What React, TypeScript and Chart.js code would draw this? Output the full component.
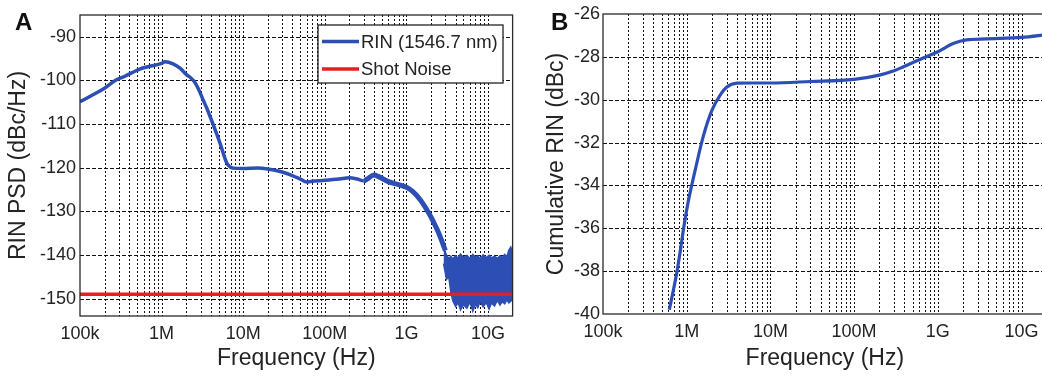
import React, { useEffect, useRef } from "react";
import { Chart, registerables } from "chart.js";

Chart.register(...registerables);

const FONT = '"Liberation Sans", Arial, Helvetica, sans-serif';
const BLUE = "#2d4fb5";
const RED = "#ee1c1c";
const INK = "#232323";

// ---- shared x axis ----
const xMin = 1e5;
const xMax = 2e10;
const xTickValues = [1e5, 1e6, 1e7, 1e8, 1e9, 1e10];
const xTickLabels = ["100k", "1M", "10M", "100M", "1G", "10G"];
const xTitle = "Frequency (Hz)";

// ---- panel A ----
const rinLabel = "RIN (1546.7 nm)";
const shotLabel = "Shot Noise";
const yTitleA = "RIN PSD (dBc/Hz)";
const yTicksA = [-150, -140, -130, -120, -110, -100, -90];

const rinFreq = [
  1e5, 1.5e5, 2e5, 2.7e5, 3.5e5, 5.4e5, 7e5, 1e6, 1.1e6, 1.38e6, 1.68e6, 2e6,
  2.3e6, 2.5e6, 2.8e6, 3.2e6, 3.6e6, 4.3e6, 5.2e6, 6.3e6, 7e6, 7.5e6, 1e7,
  1.5e7, 2e7, 3e7, 4e7, 5e7, 6e7, 7e7, 1e8, 1.5e8, 2e8, 2.5e8, 3e8, 3.3e8,
  4e8, 4.5e8, 6e8, 8e8, 1e9, 1.2e9, 1.5e9, 1.8e9, 2e9, 2.3e9, 2.5e9, 2.8e9,
  3e9,
];
const rinPsd = [
  -104.9, -103.1, -101.8, -100.0, -99.1, -97.4, -96.8, -96.1, -95.7, -96.2,
  -97.2, -98.6, -99.5, -100.2, -101.8, -104.3, -106.5, -110.2, -114.4, -119.0,
  -119.9, -120.1, -120.2, -120.1, -120.3, -121.0, -121.8, -122.6, -123.3,
  -123.1, -122.9, -122.6, -122.3, -122.6, -123.0, -122.6, -121.7, -122.0,
  -123.2, -123.9, -124.5, -125.5, -127.5, -129.8, -131.3, -133.6, -135.1,
  -137.5, -139.0,
];

const noiseFreq = [
  2.85e9, 3.1e9, 3.3e9, 3.5e9, 3.7e9, 4.0e9, 4.3e9, 4.6e9, 5.0e9, 5.5e9, 6.0e9,
  6.5e9, 7.0e9, 7.5e9, 8.0e9, 8.7e9, 9.5e9, 1.03e10, 1.1e10, 1.2e10, 1.3e10,
  1.4e10, 1.5e10, 1.6e10, 1.7e10, 1.8e10, 1.9e10, 2.0e10,
];
const noiseUpper = [
  -138.6, -140.0, -140.8, -140.3, -140.9, -140.2, -140.7, -139.8, -140.6,
  -140.1, -140.8, -139.9, -140.5, -140.2, -140.9, -140.0, -140.6, -140.1,
  -140.7, -140.3, -140.8, -140.2, -140.6, -139.9, -140.4, -138.9, -138.2,
  -139.5,
];
const noiseLower = [
  -142.0, -145.6, -145.0, -148.5, -150.5, -151.8, -150.9, -152.6, -151.4,
  -152.2, -150.8, -152.9, -151.3, -152.1, -150.6, -151.9, -150.9, -152.4,
  -151.0, -151.7, -150.4, -151.5, -150.7, -151.2, -150.3, -151.0, -150.6,
  -150.2,
];

const shotFreq = [1e5, 2e10];
const shotLevel = [-149, -149];

// ---- panel B ----
const yTitleB = "Cumulative RIN (dBc)";
const yTicksB = [-40, -38, -36, -34, -32, -30, -28, -26];
const cumFreq = [
  6.2e5, 7e5, 7.6e5, 8.5e5, 9.1e5, 1.05e6, 1.26e6, 1.58e6, 2.0e6, 2.5e6, 3e6,
  4e6, 6e6, 1e7, 3e7, 1e8, 2e8, 3e8, 3.9e8, 6.2e8, 1e9, 1.55e9, 2.2e9, 3.8e9,
  1e10, 2e10,
];
const cumRin = [
  -39.8, -38.8, -38.1, -36.9, -36.1, -34.7, -33.3, -31.7, -30.5, -29.8,
  -29.42, -29.23, -29.22, -29.22, -29.15, -29.05, -28.85, -28.65, -28.46,
  -28.11, -27.76, -27.37, -27.21, -27.16, -27.09, -26.96,
];

const pts = (xs: number[], ys: number[]) => xs.map((x, i) => ({ x, y: ys[i] }));

const dashGrid = {
  id: "dashGrid",
  beforeDatasetsDraw(chart: any, _a: any, opts: any) {
    const { ctx, chartArea: a, scales } = chart;
    const x = scales.x;
    const y = scales.y;
    ctx.save();
    ctx.beginPath();
    ctx.rect(a.left, a.top, a.right - a.left, a.bottom - a.top);
    ctx.clip();
    ctx.strokeStyle = "#111";
    ctx.lineWidth = 1;
    ctx.setLineDash([2, 2]);
    for (let e = 5; e <= 10; e++) {
      for (let m = 1; m <= 9; m++) {
        const v = m * Math.pow(10, e);
        if (v <= xMin || v >= xMax) continue;
        const px = Math.round(x.getPixelForValue(v)) + 0.5;
        ctx.beginPath();
        ctx.moveTo(px, a.top);
        ctx.lineTo(px, a.bottom);
        ctx.stroke();
      }
    }
    ctx.setLineDash([4, 2]);
    for (const v of opts.yTicks || []) {
      if (v <= y.min || v >= y.max) continue;
      const py = Math.round(y.getPixelForValue(v)) + 0.5;
      ctx.beginPath();
      ctx.moveTo(a.left, py);
      ctx.lineTo(a.right, py);
      ctx.stroke();
    }
    ctx.restore();
  },
  afterDatasetsDraw(chart: any) {
    const { ctx, chartArea: a } = chart;
    ctx.save();
    ctx.strokeStyle = "#2a2a2a";
    ctx.lineWidth = 1.3;
    ctx.strokeRect(a.left, a.top, a.right - a.left, a.bottom - a.top);
    ctx.restore();
  },
};

const boxLegend = {
  id: "boxLegend",
  afterDraw(chart: any, _a: any, opts: any) {
    if (!opts || !opts.items) return;
    const { ctx } = chart;
    const { left, top, width, height, items } = opts;
    ctx.save();
    ctx.fillStyle = "#fff";
    ctx.fillRect(left, top, width, height);
    ctx.strokeStyle = "#222";
    ctx.lineWidth = 1.3;
    ctx.strokeRect(left, top, width, height);
    items.forEach((it: any, i: number) => {
      const cy = top + 16.5 + i * 27.6;
      ctx.strokeStyle = it.color;
      ctx.lineWidth = 3.5;
      ctx.setLineDash([]);
      ctx.beginPath();
      ctx.moveTo(left + 4, cy);
      ctx.lineTo(left + 41, cy);
      ctx.stroke();
      ctx.fillStyle = INK;
      ctx.font = `18.5px ${FONT}`;
      ctx.textBaseline = "middle";
      ctx.textAlign = "left";
      ctx.fillText(it.text, left + 43, cy + 1);
    });
    ctx.restore();
  },
};

function makeOptions(p: {
  yMin: number;
  yMax: number;
  yTicks: number[];
  yWidth: number;
  yTitle: string;
  yTitlePad: number;
  yTickPad: number;
  xHeight: number;
  padding: any;
  legend?: any;
}) {
  return {
    responsive: false,
    animation: false as const,
    events: [],
    layout: { padding: p.padding },
    plugins: {
      legend: { display: false },
      tooltip: { enabled: false },
      dashGrid: { yTicks: p.yTicks },
      boxLegend: p.legend || {},
    },
    scales: {
      x: {
        type: "logarithmic" as const,
        min: xMin,
        max: xMax,
        afterBuildTicks: (s: any) => {
          s.ticks = xTickValues.map((v) => ({ value: v }));
        },
        afterFit: (s: any) => {
          s.height = p.xHeight;
        },
        ticks: {
          autoSkip: false,
          maxRotation: 0,
          minRotation: 0,
          padding: 7,
          color: INK,
          font: { family: FONT, size: 18 },
          callback: (v: any) => {
            const i = xTickValues.indexOf(Number(v));
            return i >= 0 ? xTickLabels[i] : "";
          },
        },
        grid: { display: false, drawTicks: false },
        border: { display: false },
        title: {
          display: true,
          text: xTitle,
          color: INK,
          font: { family: FONT, size: 23 },
          padding: { top: 0, bottom: 4 },
        },
      },
      y: {
        type: "linear" as const,
        min: p.yMin,
        max: p.yMax,
        afterBuildTicks: (s: any) => {
          s.ticks = p.yTicks.map((v) => ({ value: v }));
        },
        afterFit: (s: any) => {
          s.width = p.yWidth;
        },
        ticks: {
          padding: p.yTickPad,
          color: INK,
          font: { family: FONT, size: 18 },
          callback: (v: any) => String(v),
        },
        grid: { display: false, drawTicks: false },
        border: { display: false },
        title: {
          display: true,
          text: p.yTitle,
          color: INK,
          font: { family: FONT, size: 23 },
          padding: { top: p.yTitlePad, bottom: 0 },
        },
      },
    },
  };
}

export default function App() {
  const refA = useRef<HTMLCanvasElement | null>(null);
  const refB = useRef<HTMLCanvasElement | null>(null);

  useEffect(() => {
    const chartA = new Chart(refA.current as HTMLCanvasElement, {
      type: "line",
      data: {
        datasets: [
          {
            label: shotLabel,
            data: pts(shotFreq, shotLevel),
            borderColor: RED,
            borderWidth: 3.5,
            pointRadius: 0,
            fill: false,
            order: 0,
          },
          {
            label: rinLabel,
            data: pts(rinFreq, rinPsd),
            borderColor: BLUE,
            borderWidth: 3.5,
            pointRadius: 0,
            cubicInterpolationMode: "monotone",
            fill: false,
            order: 1,
            segment: {
              borderWidth: (c: any) => (c.p0.parsed.x >= 3e8 ? 5 : 3.5),
            },
          },
          {
            label: "noise-upper",
            data: pts(noiseFreq, noiseUpper),
            borderColor: BLUE,
            backgroundColor: BLUE,
            borderWidth: 1.5,
            pointRadius: 0,
            tension: 0,
            fill: "+1",
            order: 2,
          },
          {
            label: "noise-lower",
            data: pts(noiseFreq, noiseLower),
            borderColor: BLUE,
            borderWidth: 1.5,
            pointRadius: 0,
            tension: 0,
            fill: false,
            order: 3,
          },
        ],
      } as any,
      options: makeOptions({
        yMin: -154,
        yMax: -85,
        yTicks: yTicksA,
        yWidth: 80,
        yTitle: yTitleA,
        yTitlePad: 5,
        yTickPad: 4,
        xHeight: 60,
        padding: { left: 0, top: 15, right: 17.4, bottom: 0 },
        legend: {
          left: 318,
          top: 25,
          width: 185,
          height: 58,
          items: [
            { text: rinLabel, color: BLUE },
            { text: shotLabel, color: RED },
          ],
        },
      }) as any,
      plugins: [dashGrid, boxLegend],
    });

    const chartB = new Chart(refB.current as HTMLCanvasElement, {
      type: "line",
      data: {
        datasets: [
          {
            label: yTitleB,
            data: pts(cumFreq, cumRin),
            borderColor: BLUE,
            borderWidth: 3.2,
            pointRadius: 0,
            cubicInterpolationMode: "monotone",
            fill: false,
          },
        ],
      } as any,
      options: makeOptions({
        yMin: -40,
        yMax: -26,
        yTicks: yTicksB,
        yWidth: 78,
        yTitle: yTitleB,
        yTitlePad: 18,
        yTickPad: 3,
        xHeight: 62,
        padding: { left: 0, top: 14, right: 18.3, bottom: 0 },
      }) as any,
      plugins: [dashGrid, boxLegend],
    });

    return () => {
      chartA.destroy();
      chartB.destroy();
    };
  }, []);

  const labelStyle: React.CSSProperties = {
    position: "absolute",
    top: 10,
    fontFamily: FONT,
    fontWeight: "bold",
    fontSize: 24,
    lineHeight: "24px",
    color: "#111",
  };

  return (
    <div
      style={{
        position: "fixed",
        left: 0,
        top: 0,
        width: 1042,
        height: 376,
        overflow: "hidden",
        background: "#fff",
      }}
    >
      <canvas
        ref={refA}
        width={530}
        height={376}
        style={{ position: "absolute", left: 0, top: 0, width: 530, height: 376 }}
      />
      <canvas
        ref={refB}
        width={540}
        height={376}
        style={{ position: "absolute", left: 525, top: 0, width: 540, height: 376 }}
      />
      <div style={{ ...labelStyle, left: 15 }}>A</div>
      <div style={{ ...labelStyle, left: 551 }}>B</div>
    </div>
  );
}
